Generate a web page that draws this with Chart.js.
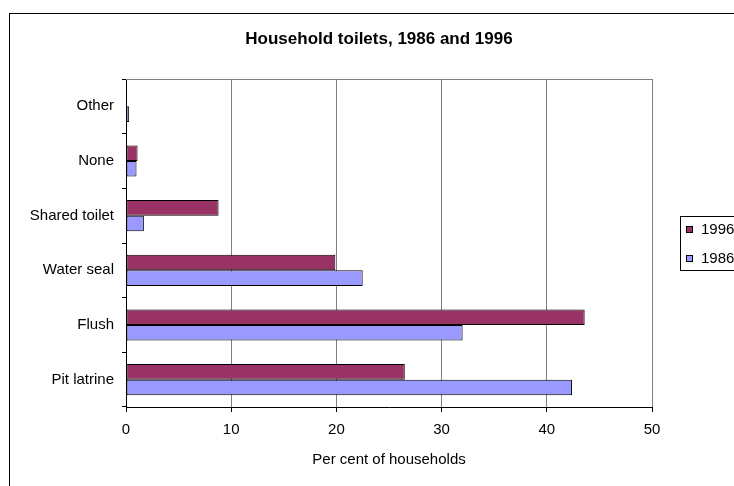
<!DOCTYPE html>
<html>
<head>
<meta charset="utf-8">
<script src="https://cdn.jsdelivr.net/npm/chart.js@4.4.1/dist/chart.umd.min.js"></script>
<style>
  html, body { margin: 0; padding: 0; background: #fff; overflow: hidden; }
  #frame { position: absolute; left: 9px; top: 13px; width: 800px; height: 520px; border: 1px solid #000; background: #fff; }
  canvas { display: block; }
</style>
</head>
<body>
<div id="frame"><canvas id="chart" width="760" height="470"></canvas></div>
<script>
const categories = ['Other', 'None', 'Shared toilet', 'Water seal', 'Flush', 'Pit latrine'];
const values1996 = [0, 1.1, 8.8, 19.9, 43.6, 26.5];
const values1986 = [0.3, 1.0, 1.7, 22.5, 32.0, 42.4];
const seriesNames = ['1996', '1986'];
const seriesColors = ['#993366', '#9999FF'];
const chartTitle = 'Household toilets, 1986 and 1996';

const FONT = '"Liberation Sans", Arial, sans-serif';

// title centred over plot + legend, and the boxed legend on the right
const sheetDecor = {
  id: 'sheetDecor',
  afterDraw(chart) {
    const ctx = chart.ctx;
    ctx.save();
    ctx.fillStyle = '#000';
    ctx.font = 'bold 17px ' + FONT;
    ctx.textAlign = 'center';
    ctx.textBaseline = 'middle';
    ctx.fillText(chartTitle, 369, 25);

    ctx.strokeStyle = '#000';
    ctx.lineWidth = 1;
    ctx.strokeRect(670.5, 202.5, 200, 54);
    ctx.font = '15px ' + FONT;
    ctx.textAlign = 'left';
    chart.data.datasets.forEach((ds, i) => {
      const cy = 215 + i * 29;
      ctx.fillStyle = ds.backgroundColor;
      ctx.fillRect(676, cy - 3, 7, 7);
      ctx.strokeRect(676.5, cy - 2.5, 6, 6);
      ctx.fillStyle = '#000';
      ctx.fillText(ds.label, 691, cy + 1);
    });
    ctx.restore();
  }
};

// grey top edge of the plot area
const plotFrame = {
  id: 'plotFrame',
  beforeDatasetsDraw(chart) {
    const { ctx, chartArea } = chart;
    ctx.save();
    ctx.strokeStyle = '#808080';
    ctx.lineWidth = 1;
    ctx.beginPath();
    ctx.moveTo(chartArea.left, Math.round(chartArea.top) + 0.5);
    ctx.lineTo(chartArea.right, Math.round(chartArea.top) + 0.5);
    ctx.stroke();
    ctx.restore();
  }
};

new Chart(document.getElementById('chart').getContext('2d'), {
  type: 'bar',
  data: {
    labels: categories,
    datasets: [
      {
        label: seriesNames[0],
        data: values1996,
        backgroundColor: seriesColors[0],
        borderColor: '#000',
        borderWidth: 1,
        borderSkipped: false
      },
      {
        label: seriesNames[1],
        data: values1986,
        backgroundColor: seriesColors[1],
        borderColor: '#000',
        borderWidth: 1,
        borderSkipped: false
      }
    ]
  },
  options: {
    indexAxis: 'y',
    responsive: false,
    animation: false,
    devicePixelRatio: 1,
    categoryPercentage: 0.57,
    barPercentage: 1.0,
    layout: { padding: { left: 0, right: 118, top: 65, bottom: 7 } },
    plugins: {
      legend: { display: false },
      tooltip: { enabled: false },
      title: { display: false }
    },
    scales: {
      x: {
        min: 0,
        max: 50,
        ticks: {
          stepSize: 10,
          color: '#000',
          padding: 9,
          font: { family: FONT, size: 15 }
        },
        grid: {
          color: '#808080',
          tickColor: '#000',
          tickLength: 5
        },
        border: { color: '#000' },
        title: {
          display: true,
          text: 'Per cent of households',
          color: '#000',
          font: { family: FONT, size: 15 },
          padding: { top: 0, bottom: 8 }
        },
        afterFit: (scale) => { scale.height = 70; }
      },
      y: {
        ticks: {
          color: '#000',
          padding: 8,
          font: { family: FONT, size: 15 }
        },
        grid: {
          drawOnChartArea: false,
          tickColor: '#000',
          tickLength: 4
        },
        border: { color: '#000' },
        afterFit: (scale) => { scale.width = 116; }
      }
    }
  },
  plugins: [plotFrame, sheetDecor]
});
</script>
</body>
</html>
